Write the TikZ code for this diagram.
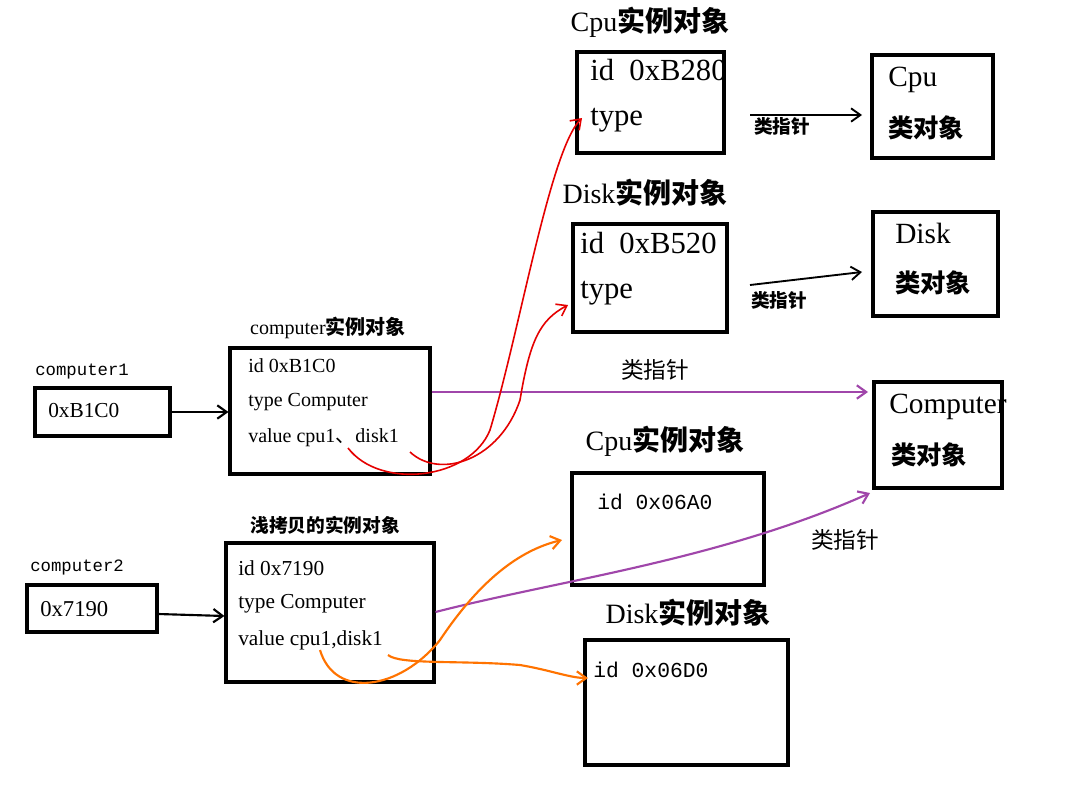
\documentclass[tikz,border=0pt]{standalone}
\usepackage{fontspec}
\setmainfont{Liberation Serif}
\newfontfamily\cjk{Noto Sans CJK SC}
\newfontfamily\mono{Liberation Mono}
\usetikzlibrary{arrows.meta}
\begin{document}
\begin{tikzpicture}[x=0.75pt,y=-0.75pt,
 box/.style={draw,line width=2.3pt,inner sep=0pt},
 sz/.style 2 args={minimum width={#1*0.75pt},minimum height={#2*0.75pt}},
 ar/.style={line width=1.6pt,-{Straight Barb[length=7pt,width=10pt]}},
 purp/.style={ar,draw={rgb,255:red,160;green,70;blue,170}},
 redc/.style={ar,draw=red!90!black,line width=1.2pt},
 oran/.style={ar,draw=orange!90!red,line width=1.6pt},
 lab/.style={anchor=west,inner sep=0pt}]
\useasboundingbox[fill=white] (0,0) rectangle (1091,786);
% boxes
\node[box,sz={135}{48}] (c1v) at (102.5,412) {};
\node[lab,font=\mono\fontsize{13}{13}\selectfont] (c1l) at (35,372) {computer1};
\node[lab,font=\fontsize{16}{16}\selectfont] (c1t) at (48,411) {0xB1C0};
\node[box,sz={200}{126}] (ci) at (330,411) {};
\node[font=\fontsize{15}{15}\selectfont] (cit) at (328,328) {computer{\cjk\bfseries 实例对象}};
\node[lab,font=\fontsize{15}{15}\selectfont] (ci1) at (248,366) {id 0xB1C0};
\node[lab,font=\fontsize{15}{15}\selectfont] (ci2) at (248,402) {type Computer};
\node[lab,font=\fontsize{15}{15}\selectfont] (ci3) at (248,438) {value cpu1{\cjk 、}disk1};
% top cpu
\node[box,sz={147}{101}] (cpu1) at (650.5,102.5) {};
\node[font=\fontsize{21}{21}\selectfont] (cpu1t) at (650,22) {Cpu{\cjk\bfseries 实例对象}};
\node[lab,font=\fontsize{23}{23}\selectfont] (cpu1a) at (590,70) {id \ 0xB280};
\node[lab,font=\fontsize{23}{23}\selectfont] (cpu1b) at (590,120) {type};
\node[box,sz={121}{103}] (cpuc) at (932.5,106.5) {};
\node[lab,font=\fontsize{22}{22}\selectfont] (cpuc1) at (888,80) {Cpu};
\node[lab,font=\cjk\bfseries\fontsize{19}{19}\selectfont] (cpuc2) at (888,128) {类对象};
\coordinate (a1s) at (750,115);
\draw[ar,line width=1.4pt] (a1s) -- (862,115) coordinate (a1e);
\node[font=\cjk\bfseries\fontsize{14}{14}\selectfont] (a1l) at (782,126) {类指针};
% disk top
\node[box,sz={154}{108}] (disk1) at (650,278) {};
\node[font=\fontsize{21}{21}\selectfont] (disk1t) at (645,193) {Disk{\cjk\bfseries 实例对象}};
\node[lab,font=\fontsize{23}{23}\selectfont] (disk1a) at (580,243) {id \ 0xB520};
\node[lab,font=\fontsize{23}{23}\selectfont] (disk1b) at (580,293) {type};
\node[box,sz={125}{104}] (diskc) at (935.5,264) {};
\node[lab,font=\fontsize{22}{22}\selectfont] (diskc1) at (895,233) {Disk};
\node[lab,font=\cjk\bfseries\fontsize{19}{19}\selectfont] (diskc2) at (895,283) {类对象};
\coordinate (a2s) at (750,285);
\draw[ar,line width=1.4pt] (a2s) -- (862,272) coordinate (a2e);
\node[font=\cjk\bfseries\fontsize{14}{14}\selectfont] (a2l) at (779,300) {类指针};
% computer class
\node[box,sz={128}{106}] (compc) at (938,435) {};
\node[lab,font=\fontsize{22}{22}\selectfont] (compc1) at (889,407) {Computer};
\node[lab,font=\cjk\bfseries\fontsize{19}{19}\selectfont] (compc2) at (891,455) {类对象};
\draw[purp] (ci.east |- 0,392) -- (868,392);
\node[font=\cjk\fontsize{17}{17}\selectfont] (pl1) at (655,370) {类指针};
% cpu 2
\node[box,sz={192}{112}] (cpu2) at (668,529) {};
\node[font=\fontsize{21}{21}\selectfont] (cpu2t) at (665,441) {Cpu{\cjk\bfseries 实例对象}};
\node[lab,font=\mono\fontsize{16}{16}\selectfont] (cpu2a) at (597,502) {id 0x06A0};
% disk 2
\node[box,sz={203}{125}] (disk2) at (686.5,702.5) {};
\node[font=\fontsize{21}{21}\selectfont] (disk2t) at (688,613) {Disk{\cjk\bfseries 实例对象}};
\node[lab,font=\mono\fontsize{16}{16}\selectfont] (disk2a) at (593,670) {id 0x06D0};
% computer2
\node[lab,font=\mono\fontsize{13}{13}\selectfont] (c2l) at (30,567) {computer2};
\node[box,sz={130}{47}] (c2v) at (92,608.5) {};
\node[lab,font=\fontsize{17}{17}\selectfont] (c2t) at (40,609) {0x7190};
\node[box,sz={208}{139}] (sc) at (330,612.5) {};
\node[font=\cjk\bfseries\fontsize{14}{14}\selectfont] (sct) at (325,525) {浅拷贝的实例对象};
\node[lab,font=\fontsize{16}{16}\selectfont] (sc1) at (238,568) {id 0x7190};
\node[lab,font=\fontsize{16}{16}\selectfont] (sc2) at (238,604) {type Computer};
\node[lab,font=\fontsize{16}{16}\selectfont] (sc3) at (238,640) {value cpu1,disk1};
\draw[purp] (sc.east |- 0,612) .. controls (560,580) and (720,560) .. (870,493);
\node[font=\cjk\fontsize{17}{17}\selectfont] (pl2) at (845,540) {类指针};
% black arrows
\draw[ar] (c1v.east) -- (ci.west |- c1v.east);
\draw[ar] (c2v.east |- 0,614) -- (sc.west |- 0,616);
% red curves
\coordinate (r1) at (348,448);
\coordinate (r2) at (410,452);
\draw[redc] (r1) .. controls (380,490) and (470,480) .. (490,430) .. controls (520,330) and (550,150) .. (582,118);
\draw[redc] (r2) .. controls (440,480) and (500,460) .. (520,400) .. controls (530,340) and (540,320) .. (568,305);
% orange
\coordinate (o1) at (320,650);
\coordinate (o2) at (388,655);
\draw[oran] (o1) .. controls (335,700) and (400,690) .. (440,640) .. controls (480,580) and (520,550) .. (562,540);
\draw[oran] (o2) .. controls (400,665) and (460,660) .. (520,665) .. controls (550,670) and (570,678) .. (588,678);
\end{tikzpicture}
\end{document}
